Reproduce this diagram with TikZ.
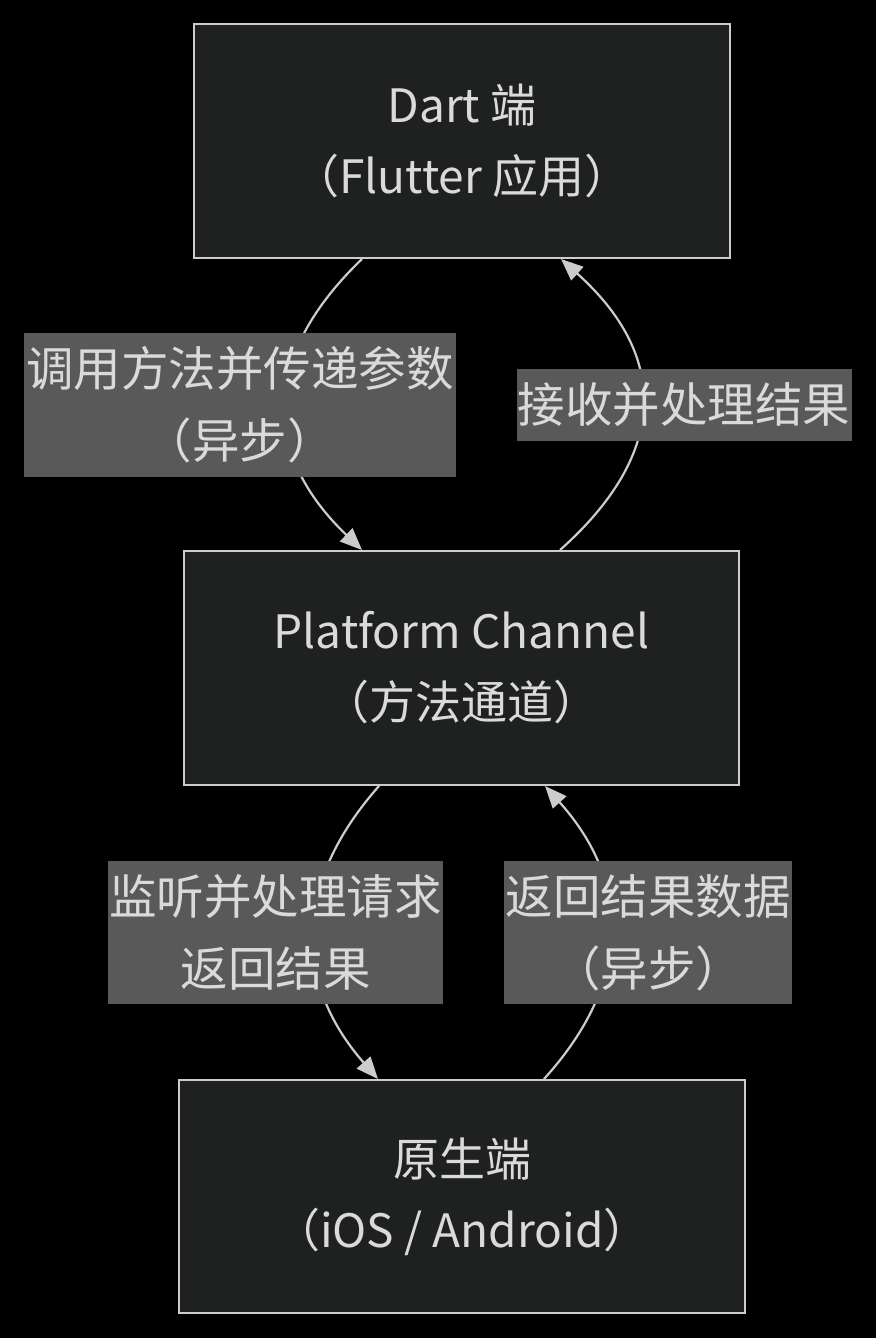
\documentclass[tikz,border=0pt]{standalone}
\usepackage{fontspec}
\setmainfont{Noto Sans CJK SC}
\usetikzlibrary{arrows.meta}
\definecolor{bgc}{HTML}{000000}
\definecolor{nodefill}{HTML}{1F2020}
\definecolor{bordc}{HTML}{CCCCCC}
\definecolor{txtc}{HTML}{DADADA}
\definecolor{lblfill}{HTML}{595959}
\definecolor{linec}{HTML}{CCCCCC}
\begin{document}
\begin{tikzpicture}[x=1pt,y=-1pt,
  box/.style={draw=bordc,line width=2pt,fill=nodefill,text=txtc,align=center,inner sep=0pt,
    font=\fontsize{46}{71}\selectfont},
  lbl/.style={fill=lblfill,text=txtc,align=center,inner sep=0pt,
    font=\fontsize{47.5}{72}\selectfont},
  conn/.style={draw=linec,line width=2.2pt,-{Triangle[length=22pt,width=18pt]}}]
\fill[bgc] (0,0) rectangle (876,1338);
\useasboundingbox (0,0) rectangle (876,1338);

\node[box,minimum width=536pt,minimum height=234pt] (dart) at (462,141) {Dart 端\\（Flutter 应用）};
\node[box,minimum width=555pt,minimum height=234pt] (chan) at (461.5,668) {Platform Channel\\（方法通道）};
\node[box,minimum width=566pt,minimum height=233pt] (nat) at (462,1196.5) {原生端\\（iOS / Android）};

\draw[conn] ([xshift=169pt]dart.south west) .. controls (261,356) and (261,453) .. ([xshift=179pt]chan.north west);
\draw[conn] ([xshift=377pt]chan.north west) .. controls (669,453) and (669,356) .. ([xshift=368pt]dart.south west);
\draw[conn] ([xshift=196pt]chan.south west) .. controls (293,883) and (293,982) .. ([xshift=200pt]nat.north west);
\draw[conn] ([xshift=366pt]nat.north west) .. controls (632,982) and (632,883) .. ([xshift=362pt]chan.south west);

\node[lbl,minimum width=432pt,minimum height=144pt] (l1) at (240,405) {调用方法并传递参数\\（异步）};
\node[lbl,minimum width=335pt,minimum height=72pt] (l2) at (684,405) {接收并处理结果};
\node[lbl,minimum width=335pt,minimum height=143pt] (l3) at (275.5,932.5) {监听并处理请求\\返回结果};
\node[lbl,minimum width=288pt,minimum height=143pt] (l4) at (648,932.5) {返回结果数据\\（异步）};
\end{tikzpicture}
\end{document}
